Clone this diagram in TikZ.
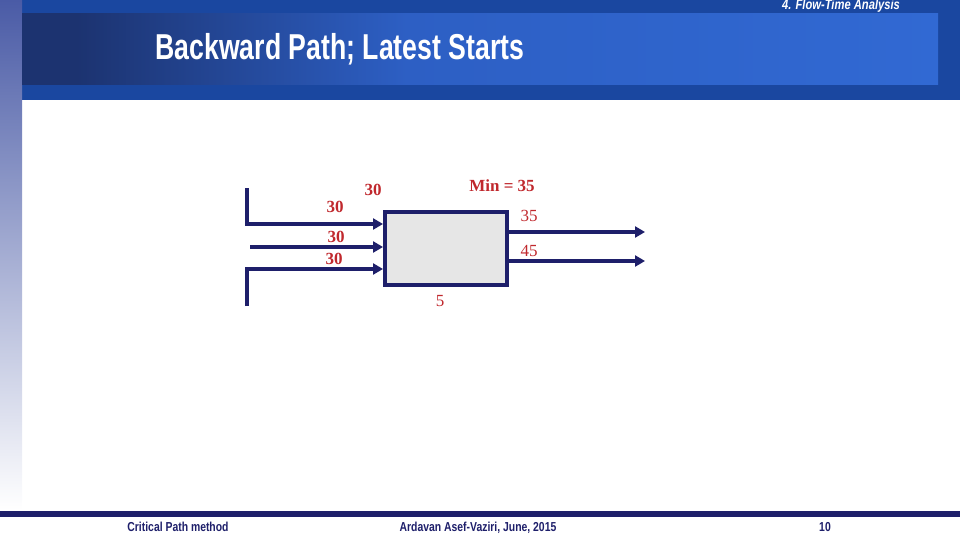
\documentclass[tikz,border=0pt]{standalone}
\usepackage{fontspec}
\setmainfont{Liberation Serif}
\newfontfamily\titlefont[FakeStretch=0.74]{Liberation Sans}
\newfontfamily\footfont[FakeStretch=0.8]{Liberation Sans}
\usetikzlibrary{arrows.meta}
\definecolor{navy}{HTML}{1E1F6A}
\definecolor{numred}{HTML}{C0282D}
\definecolor{bandblue}{HTML}{1A47A0}
\definecolor{titledark}{HTML}{1C3370}
\definecolor{titleblue}{HTML}{2D5FC4}
\definecolor{titlelight}{HTML}{3169D3}
\definecolor{stripblue}{HTML}{4A5BA6}
\definecolor{boxgray}{HTML}{E6E6E6}
\pgfdeclarehorizontalshading{titlebar}{100bp}{color(0bp)=(titledark); color(28bp)=(titledark); color(46bp)=(titleblue); color(75bp)=(titlelight); color(100bp)=(titlelight)}
\tikzset{
  flow/.style={line width=4pt, draw=navy, -{Triangle[length=10pt,width=11pt]}},
  bignum/.style={text=numred, font=\fontsize{17}{20}\selectfont\bfseries},
  smallnum/.style={text=numred, font=\fontsize{17}{20}\selectfont},
  foot/.style={anchor=base, text=navy, font=\footfont\fontsize{13}{15}\selectfont\bfseries},
}
\begin{document}
\begin{tikzpicture}[x=1pt, y=-1pt]
                    \useasboundingbox (0,0) rectangle (960,540);
                    % slide background
                    \fill[bandblue] (0,0) rectangle (960,100);
                    \shade[top color=stripblue, bottom color=white] (0,0) rectangle (22,510);
                    \shade[shading=titlebar] (22,14) rectangle (938,85);
                    \fill[navy] (0,511) rectangle (960,517);

                    \node at (841, 6) (section) {\color{white}\footfont\fontsize{14}{16}\selectfont\bfseries\itshape 4. Flow-Time Analysis};
                    \node[anchor=west] at (152, 49) (title) {\color{white}\titlefont\fontsize{36}{40}\selectfont\bfseries Backward Path; Latest Starts};

                    % activity
                    \node[draw=navy, line width=4pt, fill=boxgray, minimum width=122pt, minimum height=73pt] at (446, 248.5) (act) {};
                    \coordinate (in1) at (247, 188);
                    \coordinate (in2) at (250, 247);
                    \coordinate (in3) at (247, 306);
                    \coordinate (out1) at (645, 232);
                    \coordinate (out2) at (645, 261);

                    \draw[flow] (in1) |- ([yshift=24.5pt]act.west);
                    \draw[flow] (in2) -- ([yshift=1.5pt]act.west);
                    \draw[flow] (in3) |- ([yshift=-20.5pt]act.west);
                    \draw[flow] ([yshift=16.5pt]act.east) -- (out1);
                    \draw[flow] ([yshift=-12.5pt]act.east) -- (out2);

                    \node[bignum] at (335, 207) (ls1) {30};
                    \node[bignum] at (373, 190) (ls) {30};
                    \node[bignum] at (336, 237) (ls2) {30};
                    \node[bignum] at (334, 259) (ls3) {30};
                    \node[bignum] at (502, 186) (min) {Min = 35};
                    \node[smallnum] at (529, 216) (lf1) {35};
                    \node[smallnum] at (529, 251) (lf2) {45};
                    \node[smallnum] at (440, 301) (dur) {5};

                    % footer
                    \node[foot] at (178, 531) (course) {Critical Path method};
                    \node[foot] at (478, 531) (author) {Ardavan Asef-Vaziri, June, 2015};
                    \node[foot] at (825, 531) (page) {10};
                \end{tikzpicture}
\end{document}
